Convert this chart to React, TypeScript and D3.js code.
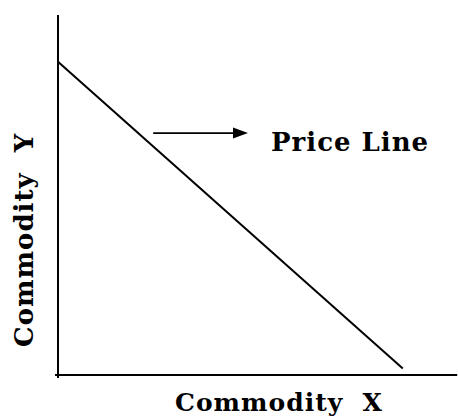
import React from 'react';
import * as d3 from 'd3';

// price line endpoints in commodity units
const priceLineX = [0, 8.62];
const priceLineY = [8.7, 0.18];
// arrow pointing to the line label
const arrowX = [2.38, 4.75];
const arrowY = 6.72;
const labels = { x: 'Commodity  X', y: 'Commodity  Y', line: 'Price Line' };

const W = 458;
const H = 417;

const App = () => {
  const xScale = d3.scaleLinear().domain([0, 10]).range([58, 458]);
  const yScale = d3.scaleLinear().domain([0, 10]).range([375, 15]);

  const line = d3
    .line<number>()
    .x((d, i) => xScale(priceLineX[i]))
    .y((d, i) => yScale(priceLineY[i]));

  const ax0 = xScale(arrowX[0]);
  const ax1 = xScale(arrowX[1]);
  const ay = yScale(arrowY);
  const head = d3.path();
  head.moveTo(ax1, ay);
  head.lineTo(ax1 - 15, ay - 5.5);
  head.lineTo(ax1 - 15, ay + 5.5);
  head.closePath();

  const textStyle: React.CSSProperties = {
    fontFamily: "'DejaVu Serif', serif",
    fontWeight: 700,
    whiteSpace: 'pre',
  };

  return (
    <div style={{ position: 'fixed', left: 0, top: 0 }}>
      <svg width={W} height={H} style={{ display: 'block', background: '#fff' }}>
        {/* axes */}
        <line x1={xScale(0)} x2={xScale(0)} y1={yScale(10)} y2={yScale(0) + 3} stroke="#000" strokeWidth={2} />
        <line x1={xScale(0) - 3} x2={xScale(9.98)} y1={yScale(0)} y2={yScale(0)} stroke="#000" strokeWidth={2} />

        {/* price line */}
        <path d={line(priceLineX) || ''} fill="none" stroke="#000" strokeWidth={2} />

        {/* arrow */}
        <line x1={ax0} x2={ax1 - 12} y1={ay} y2={ay} stroke="#000" strokeWidth={1.8} />
        <path d={head.toString()} fill="#000" />

        <text x={271} y={151} fontSize={26} letterSpacing={1} style={textStyle}>
          {labels.line}
        </text>
        <text x={175} y={411} fontSize={25} letterSpacing={1} style={textStyle}>
          {labels.x}
        </text>
        <text transform="translate(33,347) rotate(-90)" fontSize={26} letterSpacing={1} style={textStyle}>
          {labels.y}
        </text>
      </svg>
    </div>
  );
};

export default App;
